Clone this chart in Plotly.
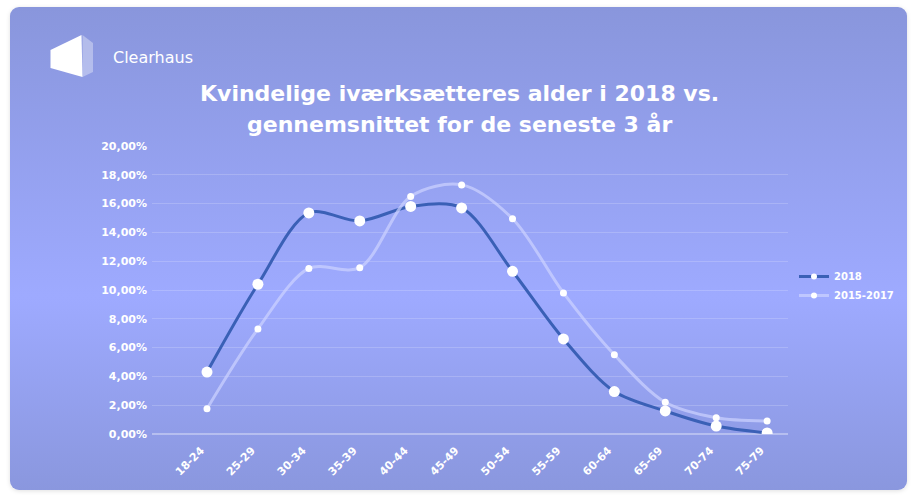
import base64
import plotly.graph_objects as go

categories = ["18-24", "25-29", "30-34", "35-39", "40-44", "45-49",
              "50-54", "55-59", "60-64", "65-69", "70-74", "75-79"]
values_2018 = [4.3, 10.4, 15.35, 14.8, 15.8, 15.7, 11.3, 6.6, 2.95, 1.6, 0.55, 0.07]
values_2015_2017 = [1.75, 7.3, 11.5, 11.55, 16.5, 17.3, 14.95, 9.8, 5.5, 2.2, 1.13, 0.9]
ytick_vals = [0, 2, 4, 6, 8, 10, 12, 14, 16, 18, 20]
ytick_text = ["0,00%", "2,00%", "4,00%", "6,00%", "8,00%", "10,00%",
              "12,00%", "14,00%", "16,00%", "18,00%", "20,00%"]
series_names = ["2018", "2015-2017"]
title_lines = ["Kvindelige iværksætteres alder i 2018 vs.",
               "gennemsnittet for de seneste 3 år"]
brand = "Clearhaus"

W, H = 918, 503
FONT = "DejaVu Sans"
DARK = "#3a60b6"
LIGHT = "rgba(205,211,255,0.7)"


def px(x):
    return x / W


def py(y):
    return 1 - y / H


svg = f"""<svg xmlns='http://www.w3.org/2000/svg' width='{W}' height='{H}' viewBox='0 0 {W} {H}' preserveAspectRatio='none'>
<defs>
<linearGradient id='g' x1='0' y1='0' x2='0' y2='1'>
<stop offset='0' stop-color='#8996dc'/>
<stop offset='0.6' stop-color='#9eaaff'/>
<stop offset='1' stop-color='#8a97de'/>
</linearGradient>
<filter id='s' x='-5%' y='-5%' width='110%' height='110%'>
<feDropShadow dx='0' dy='1' stdDeviation='2' flood-color='#000' flood-opacity='0.12'/>
</filter>
</defs>
<rect x='10' y='7' width='897' height='483' rx='9' ry='9' fill='url(#g)' filter='url(#s)'/>
</svg>"""
src = "data:image/svg+xml;base64," + base64.b64encode(svg.encode()).decode()

fig = go.Figure()
fig.add_trace(go.Scatter(
    x=categories, y=values_2018, name=series_names[0], mode="lines+markers",
    line=dict(color=DARK, width=3, shape="spline", smoothing=0.9),
    marker=dict(color="white", size=11), showlegend=False,
    hoverinfo="skip",
))
fig.add_trace(go.Scatter(
    x=categories, y=values_2015_2017, name=series_names[1], mode="lines+markers",
    line=dict(color=LIGHT, width=3, shape="spline", smoothing=0.9),
    marker=dict(color="white", size=7), showlegend=False,
    hoverinfo="skip",
))
# legend entries (smaller legend markers, as in the original)
for name, col in zip(series_names, [DARK, LIGHT]):
    fig.add_trace(go.Scatter(
        x=[None], y=[None], name=name, mode="lines+markers",
        line=dict(color=col, width=3), marker=dict(color="white", size=6),
        hoverinfo="skip",
    ))


def path(points):
    return "M " + " L ".join(f"{px(x)},{py(y)}" for x, y in points) + " Z"


shapes = [
    dict(type="path", xref="paper", yref="paper",
         path=path([(50.5, 50), (81.5, 35), (82.5, 77), (50.5, 68)]),
         fillcolor="white", line=dict(width=0), layer="above"),
    dict(type="path", xref="paper", yref="paper",
         path=path([(82.5, 35), (93, 43), (93, 72), (82.5, 77)]),
         fillcolor="rgba(255,255,255,0.35)", line=dict(width=0), layer="above"),
]

annotations = [
    dict(text=brand, x=px(111), y=py(57), xref="paper", yref="paper",
         xanchor="left", yanchor="middle", showarrow=False,
         font=dict(family=FONT, size=16, color="white")),
    dict(text=title_lines[0], x=px(460), y=py(93), xref="paper", yref="paper",
         xanchor="center", yanchor="middle", showarrow=False,
         font=dict(family=FONT, size=22, color="white", weight=700)),
    dict(text=title_lines[1], x=px(459), y=py(124), xref="paper", yref="paper",
         xanchor="center", yanchor="middle", showarrow=False,
         font=dict(family=FONT, size=22, color="white", weight=700)),
]

fig.update_layout(
    template="none",
    width=W, height=H,
    autosize=False,
    margin=dict(l=0, r=0, t=0, b=0, pad=0, autoexpand=False),
    paper_bgcolor="white",
    plot_bgcolor="rgba(0,0,0,0)",
    images=[dict(source=src, xref="paper", yref="paper", x=0, y=1,
                 sizex=1, sizey=1, sizing="stretch", layer="below",
                 xanchor="left", yanchor="top")],
    shapes=shapes,
    annotations=annotations,
    showlegend=True,
    legend=dict(x=px(794), y=py(286), xanchor="left", yanchor="middle",
                bgcolor="rgba(0,0,0,0)", borderwidth=0,
                font=dict(family=FONT, size=10, color="white", weight=700)),
    xaxis=dict(domain=[px(152), px(788)], range=[-1.08, 11.41], automargin=False,
               showgrid=False, zeroline=False, showline=False,
               tickangle=-45, ticks="",
               tickfont=dict(family=FONT, size=11, color="white", weight=700),
               ticklabelshift=-6, ticklabelstandoff=7),
    yaxis=dict(domain=[py(434), py(146)], range=[0, 20], automargin=False,
               tickvals=ytick_vals, ticktext=ytick_text,
               showgrid=True, gridcolor="rgba(255,255,255,0.18)", gridwidth=1,
               zeroline=True, zerolinecolor="rgba(255,255,255,0.35)", zerolinewidth=2,
               showline=False, ticks="", ticklabelstandoff=4,
               tickfont=dict(family=FONT, size=11, color="white", weight=700)),
)

fig.write_html("out.html")
